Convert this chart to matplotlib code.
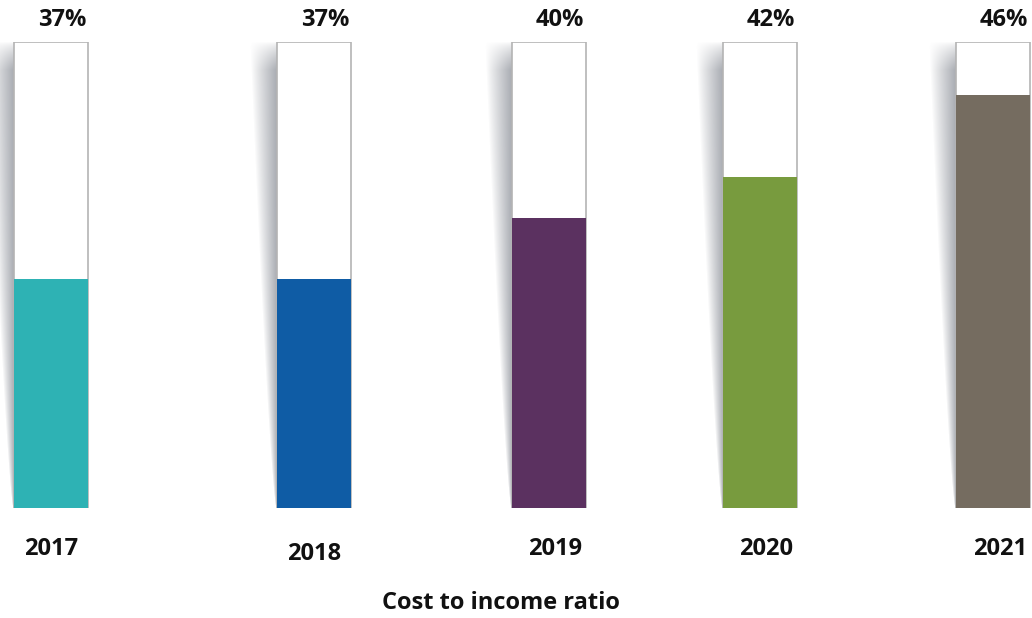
import numpy as np
import matplotlib.pyplot as plt
from matplotlib.patches import Rectangle

plt.rcParams['font.family'] = ['Open Sans', 'DejaVu Sans']

years = ["2017", "2018", "2019", "2020", "2021"]
ratios = [37, 37, 40, 42, 46]
colors = ["#2eb2b4", "#0f5ca5", "#5b3160", "#789b3e", "#756c60"]

# layout (figure pixels)
W, H = 1032, 618
centers = [51, 314, 549, 760, 993]
year_x = [51, 314, 555, 766, 1000]
year_y = [549, 554, 549, 549, 549]
bar_w = 74
box_top, box_bottom = 42, 508
vmin, vmax = 25.8, 48.6

fig = plt.figure(figsize=(W / 100, H / 100), dpi=100)
ax = fig.add_axes([0, (H - box_bottom) / H, 1, (box_bottom - box_top) / H])
ax.axis("off")


def shadow_layer(lefts, amax=0.8):
    # tapered soft shadows left of each tube, one texel per screen pixel
    rows = box_bottom - box_top
    t = 1 - (np.arange(rows)[:, None] + 0.5) / rows   # 1 = top, 0 = bottom
    xs = np.arange(W)[None, :] + 0.5
    w = 1.0 + 26 * t ** 0.75
    top_fade = np.clip((1 - t) / 0.06, 0, 1) ** 0.7
    alpha = np.zeros((rows, W))
    for left in lefts:
        d = left - xs
        u = np.where((d >= 0) & (d <= w), 1 - d / w, 0)
        alpha = np.maximum(alpha, u ** 0.9 * amax * top_fade)
    img = np.zeros((rows, W, 4))
    img[..., 0], img[..., 1], img[..., 2] = 0.58, 0.595, 0.625
    img[..., 3] = alpha
    return img


ax.imshow(shadow_layer([cx - bar_w / 2 for cx in centers]),
          extent=(0, W, vmin, vmax), origin="upper", aspect="auto",
          interpolation="none", zorder=1)

# empty tube outline, then the filled part
for cx in centers:
    ax.add_patch(Rectangle((cx - bar_w / 2, vmin), bar_w, vmax - vmin,
                           facecolor="white", edgecolor="#b4b4b4", lw=1.2, zorder=2))
ax.bar(centers, ratios, width=bar_w, color=colors, zorder=3)
ax.set_xlim(0, W)
ax.set_ylim(vmin, vmax)

for cx, v in zip(centers, ratios):
    fig.text((cx + 11) / W, 1 - 20 / H, f"{v}%", ha="center", va="center",
             fontsize=17, fontweight="bold", color="#111111")

for x, y, yr in zip(year_x, year_y, years):
    fig.text(x / W, 1 - y / H, yr, ha="center", va="center",
             fontsize=17, fontweight="bold", color="#111111")

fig.text(501 / W, 1 - 603 / H, "Cost to income ratio", ha="center", va="center",
         fontsize=17, fontweight="bold", color="#111111")

fig.savefig("out.png", dpi=100)
